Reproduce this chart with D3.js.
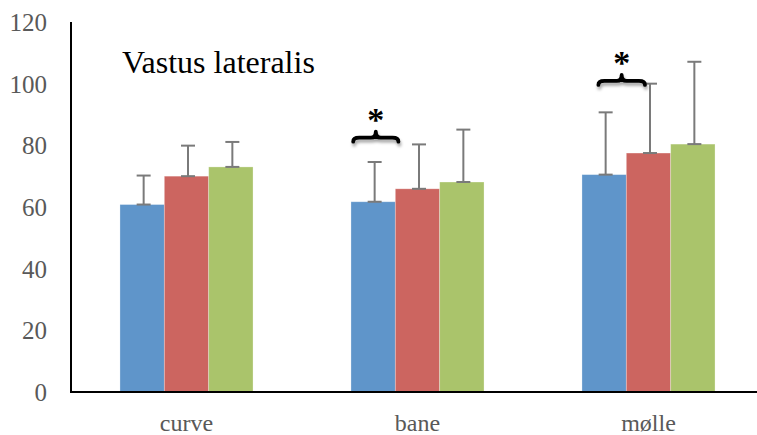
<!DOCTYPE html>
<html>
<head>
<meta charset="utf-8">
<script src="https://cdn.jsdelivr.net/npm/d3@7"></script>
<style>
  html, body { margin: 0; padding: 0; background: #fff; }
  svg { display: block; }
</style>
</head>
<body>
<svg id="chart" width="757" height="435"></svg>
<script>
// Muscle activity per surface, three conditions per surface
const categories = ["curve", "bane", "mølle"];
const seriesNames = ["s1", "s2", "s3"];
const s1Mean = [60.8, 61.7, 70.5];
const s2Mean = [70.0, 65.9, 77.5];
const s3Mean = [73.0, 68.1, 80.4];
const s1Sd = [9.4, 12.9, 20.2];
const s2Sd = [9.9, 14.4, 22.5];
const s3Sd = [8.1, 17.0, 26.7];
const yTicks = [0, 20, 40, 60, 80, 100, 120];
const chartTitle = "Vastus lateralis";
// significance braces: category, start/end in bar slots, level in y units
const sigCategory = ["bane", "mølle"];
const sigFrom = [0.05, 0.37];
const sigTo = [1.07, 1.42];
const sigLevel = [82.5, 100.9];

const colors = ["#5F95CA", "#CC6560", "#AAC46B"];
const means = [s1Mean, s2Mean, s3Mean];
const sds = [s1Sd, s2Sd, s3Sd];

const svg = d3.select("#chart");
const plotLeft = 71, plotRight = 764, plotTop = 22, plotBottom = 392;

const x = d3.scaleBand().domain(categories).range([plotLeft, plotRight])
  .paddingInner(0.424).paddingOuter(0.212);
const xs = d3.scaleBand().domain(seriesNames).range([0, x.bandwidth()]);
const y = d3.scaleLinear().domain([0, 120]).range([plotBottom, plotTop]);

const defs = svg.append("defs");
const f = defs.append("filter").attr("id", "sh")
  .attr("x", "-20%").attr("y", "-50%").attr("width", "140%").attr("height", "250%");
f.append("feDropShadow").attr("dx", 1).attr("dy", 3).attr("stdDeviation", 1.6)
  .attr("flood-color", "#000").attr("flood-opacity", 0.35);

const rows = [];
categories.forEach((c, i) => seriesNames.forEach((s, j) => {
  rows.push({ c, s, j, v: means[j][i], sd: sds[j][i] });
}));

// bars
svg.append("g").selectAll("rect").data(rows).enter().append("rect")
  .attr("x", d => x(d.c) + xs(d.s))
  .attr("y", d => y(d.v))
  .attr("width", xs.bandwidth())
  .attr("height", d => y(0) - y(d.v))
  .attr("fill", d => colors[d.j])
  .attr("stroke", "#ffffff").attr("stroke-opacity", 0.35).attr("stroke-width", 0.8);

// error bars (upper only)
const eb = svg.append("g").attr("stroke", "#7A7A7A").attr("stroke-width", 2).attr("fill", "none");
rows.forEach(d => {
  const cx = x(d.c) + xs(d.s) + xs.bandwidth() / 2 + 1.5;
  const capW = 7;
  eb.append("line").attr("x1", cx).attr("x2", cx).attr("y1", y(d.v)).attr("y2", y(d.v + d.sd));
  eb.append("line").attr("x1", cx - capW).attr("x2", cx + capW).attr("y1", y(d.v + d.sd)).attr("y2", y(d.v + d.sd));
  eb.append("line").attr("x1", cx - capW).attr("x2", cx + capW).attr("y1", y(d.v)).attr("y2", y(d.v));
});

// axes
svg.append("line").attr("x1", plotLeft).attr("x2", 757).attr("y1", plotBottom).attr("y2", plotBottom)
  .attr("stroke", "#000").attr("stroke-width", 2);
svg.append("line").attr("x1", plotLeft).attr("x2", plotLeft).attr("y1", plotTop).attr("y2", plotBottom + 1)
  .attr("stroke", "#000").attr("stroke-width", 2);

const yAxis = svg.append("g").attr("transform", `translate(${plotLeft},0)`)
  .call(d3.axisLeft(y).tickValues(yTicks).tickSize(0).tickPadding(24));
yAxis.select(".domain").remove();
yAxis.selectAll("text")
  .attr("font-family", "Liberation Serif").attr("font-size", 25).attr("fill", "#595959")
  .attr("dy", "0.34em");

const xAxis = svg.append("g").attr("transform", `translate(0,${plotBottom})`)
  .call(d3.axisBottom(x).tickSize(0).tickPadding(0));
xAxis.select(".domain").remove();
xAxis.selectAll("text")
  .attr("font-family", "Liberation Serif").attr("font-size", 24).attr("fill", "#595959")
  .attr("y", 39).attr("dy", 0);

// title
svg.append("text").attr("x", 122).attr("y", 73)
  .attr("font-family", "Liberation Serif").attr("font-size", 32).attr("fill", "#000")
  .text(chartTitle);

// significance braces with asterisks
const bw = xs.bandwidth();
sigCategory.forEach((c, i) => {
  const x1 = x(c) + sigFrom[i] * bw, x2 = x(c) + sigTo[i] * bw;
  const yy = y(sigLevel[i]);
  const xm = (x1 + x2) / 2;
  const p = `M${x1},${yy + 4} Q${x1},${yy} ${x1 + 6},${yy} L${xm - 5},${yy} Q${xm},${yy} ${xm},${yy - 6} Q${xm},${yy} ${xm + 5},${yy} L${x2 - 6},${yy} Q${x2},${yy} ${x2},${yy + 4}`;
  svg.append("path").attr("d", p).attr("fill", "none").attr("stroke", "#000")
    .attr("stroke-width", 3.8).attr("stroke-linecap", "round").attr("stroke-linejoin", "round")
    .attr("filter", "url(#sh)");
  svg.append("text").attr("x", xm).attr("y", yy - 7).attr("text-anchor", "middle")
    .attr("font-family", "Liberation Serif").attr("font-weight", "bold")
    .attr("font-size", 34).attr("fill", "#000")
    .text("*");
});
</script>
</body>
</html>
